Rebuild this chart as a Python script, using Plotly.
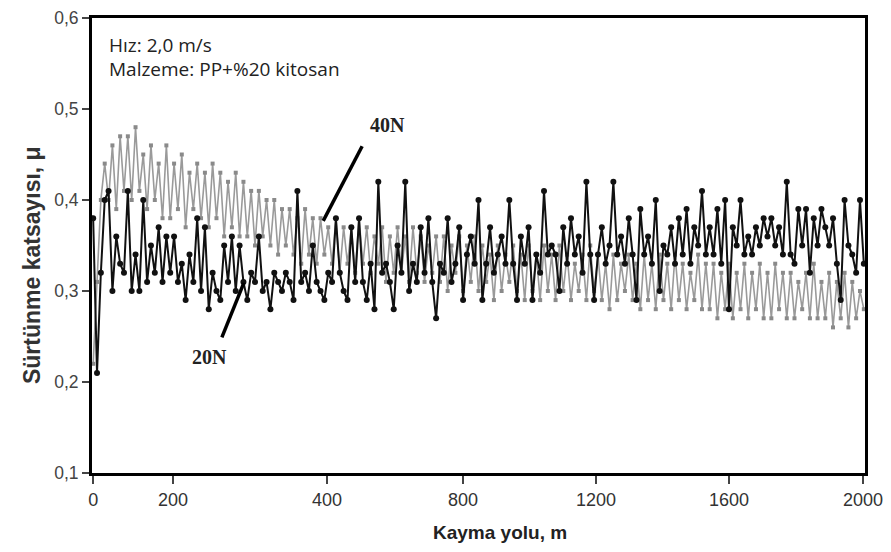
import plotly.graph_objects as go

# Sliding distance (m), one reading every 10 m
distance = list(range(0, 2001, 10))

# 40N series (grey)
mu_40N = [
    0.22, 0.31, 0.40, 0.44, 0.40, 0.46, 0.39, 0.47, 0.41, 0.47,
    0.40, 0.48, 0.41, 0.45, 0.39, 0.46, 0.40, 0.44, 0.38, 0.46,
    0.38, 0.44, 0.39, 0.45, 0.37, 0.43, 0.39, 0.44, 0.38, 0.43,
    0.37, 0.44, 0.38, 0.43, 0.36, 0.42, 0.37, 0.43, 0.36, 0.42,
    0.36, 0.41, 0.35, 0.41, 0.36, 0.40, 0.35, 0.40, 0.34, 0.39,
    0.35, 0.39, 0.34, 0.38, 0.33, 0.39, 0.34, 0.38, 0.33, 0.38,
    0.34, 0.37, 0.33, 0.38, 0.32, 0.37, 0.33, 0.37, 0.32, 0.38,
    0.33, 0.37, 0.32, 0.36, 0.33, 0.37, 0.31, 0.36, 0.32, 0.37,
    0.32, 0.36, 0.31, 0.37, 0.32, 0.36, 0.31, 0.35, 0.32, 0.36,
    0.31, 0.36, 0.30, 0.35, 0.32, 0.36, 0.30, 0.35, 0.31, 0.36,
    0.30, 0.35, 0.31, 0.34, 0.29, 0.35, 0.30, 0.34, 0.31, 0.35,
    0.30, 0.34, 0.29, 0.35, 0.30, 0.34, 0.29, 0.35, 0.30, 0.34,
    0.29, 0.35, 0.30, 0.34, 0.29, 0.33, 0.30, 0.34, 0.29, 0.35,
    0.30, 0.34, 0.29, 0.33, 0.28, 0.34, 0.29, 0.33, 0.30, 0.34,
    0.29, 0.33, 0.28, 0.34, 0.29, 0.33, 0.28, 0.34, 0.29, 0.33,
    0.28, 0.34, 0.29, 0.33, 0.28, 0.32, 0.29, 0.34, 0.28, 0.33,
    0.28, 0.33, 0.27, 0.32, 0.28, 0.33, 0.27, 0.32, 0.28, 0.33,
    0.27, 0.32, 0.28, 0.33, 0.27, 0.32, 0.27, 0.33, 0.28, 0.32,
    0.27, 0.32, 0.27, 0.31, 0.28, 0.32, 0.27, 0.33, 0.27, 0.31,
    0.27, 0.32, 0.26, 0.31, 0.27, 0.32, 0.26, 0.31, 0.27, 0.30,
    0.28,
]

# 20N series (black)
mu_20N = [
    0.38, 0.21, 0.32, 0.40, 0.41, 0.30, 0.36, 0.33, 0.32, 0.41,
    0.30, 0.34, 0.30, 0.40, 0.31, 0.35, 0.32, 0.37, 0.31, 0.36,
    0.32, 0.36, 0.31, 0.33, 0.29, 0.34, 0.31, 0.38, 0.30, 0.37,
    0.28, 0.32, 0.30, 0.29, 0.35, 0.31, 0.36, 0.30, 0.35, 0.31,
    0.29, 0.32, 0.31, 0.36, 0.30, 0.31, 0.28, 0.32, 0.31, 0.30,
    0.32, 0.31, 0.29, 0.41, 0.31, 0.32, 0.30, 0.35, 0.31, 0.30,
    0.29, 0.32, 0.31, 0.38, 0.32, 0.30, 0.29, 0.37, 0.31, 0.38,
    0.31, 0.29, 0.33, 0.28, 0.42, 0.32, 0.33, 0.31, 0.28, 0.35,
    0.32, 0.42, 0.30, 0.33, 0.31, 0.37, 0.32, 0.38, 0.31, 0.27,
    0.33, 0.32, 0.38, 0.31, 0.33, 0.37, 0.29, 0.34, 0.36, 0.33,
    0.40, 0.29, 0.33, 0.37, 0.32, 0.34, 0.36, 0.33, 0.40, 0.33,
    0.29, 0.36, 0.33, 0.37, 0.29, 0.34, 0.32, 0.41, 0.34, 0.35,
    0.34, 0.30, 0.37, 0.33, 0.38, 0.34, 0.36, 0.32, 0.42, 0.34,
    0.29, 0.34, 0.37, 0.33, 0.35, 0.42, 0.34, 0.36, 0.33, 0.38,
    0.34, 0.29, 0.39, 0.34, 0.36, 0.33, 0.40, 0.30, 0.35, 0.34,
    0.37, 0.33, 0.38, 0.34, 0.39, 0.33, 0.37, 0.35, 0.41, 0.34,
    0.37, 0.34, 0.39, 0.33, 0.40, 0.28, 0.37, 0.35, 0.40, 0.34,
    0.36, 0.34, 0.37, 0.35, 0.38, 0.36, 0.38, 0.35, 0.37, 0.34,
    0.42, 0.34, 0.33, 0.39, 0.35, 0.39, 0.32, 0.38, 0.35, 0.39,
    0.37, 0.35, 0.38, 0.33, 0.29, 0.40, 0.35, 0.34, 0.32, 0.40,
    0.33,
]

# Axis tick positions/labels as printed on the original axis
x_tick_vals = [0, 207, 607, 960, 1305, 1650, 1998]
x_tick_text = ["0", "200", "400", "800", "1200", "1600", "2000"]
y_tick_vals = [0.1, 0.2, 0.3, 0.4, 0.5, 0.6]

info_lines = ["Hız: 2,0 m/s", "Malzeme: PP+%20 kitosan"]

fig = go.Figure()

fig.add_trace(go.Scatter(
    x=distance, y=mu_40N, mode="lines+markers", name="40N",
    line=dict(color="#9a9a9a", width=1.6),
    marker=dict(symbol="square", size=4, color="#8a8a8a"),
    showlegend=False,
))
fig.add_trace(go.Scatter(
    x=distance, y=mu_20N, mode="lines+markers", name="20N",
    line=dict(color="#111111", width=2),
    marker=dict(symbol="circle", size=6, color="#111111"),
    showlegend=False,
))

# Label leader lines
fig.add_shape(type="line", x0=698, y0=0.459, x1=597, y1=0.377,
              xref="x", yref="y", line=dict(color="black", width=3.5))
fig.add_shape(type="line", x0=391, y0=0.309, x1=334, y1=0.249,
              xref="x", yref="y", line=dict(color="black", width=3.5))

serif = dict(family="Liberation Serif, Times New Roman, serif", size=20, color="#222")
fig.add_annotation(x=763, y=0.482, xref="x", yref="y", text="<b>40N</b>",
                   showarrow=False, font=serif, xanchor="center", yanchor="middle")
fig.add_annotation(x=303, y=0.227, xref="x", yref="y", text="<b>20N</b>",
                   showarrow=False, font=serif, xanchor="center", yanchor="middle")

# plot area (in figure px): left 84, right 857, top 10, bottom 465
info_font = dict(family="Open Sans, Lato, sans-serif", size=19, color="#222")
fig.add_annotation(x=0.0194, y=0.9405, xref="paper", yref="paper", text=info_lines[0],
                   showarrow=False, xanchor="left", yanchor="middle", font=info_font)
fig.add_annotation(x=0.0194, y=0.8875, xref="paper", yref="paper", text=info_lines[1],
                   showarrow=False, xanchor="left", yanchor="middle", font=info_font)

# Axis titles
fig.add_annotation(x=-0.0776, y=0.457, xref="paper", yref="paper",
                   text="<b>Sürtünme katsayısı, μ</b>", textangle=-90, showarrow=False,
                   xanchor="center", yanchor="middle",
                   font=dict(family="Liberation Sans, Arial, sans-serif", size=23, color="#333"))
fig.add_annotation(x=0.528, y=-0.1318, xref="paper", yref="paper",
                   text="<b>Kayma yolu, m</b>", showarrow=False,
                   xanchor="center", yanchor="middle",
                   font=dict(family="Liberation Sans Narrow, Liberation Sans, Arial, sans-serif",
                             size=19, color="#222"))

fig.update_layout(
    width=875, height=536,
    margin=dict(l=84, r=18, t=10, b=71, autoexpand=False),
    paper_bgcolor="white", plot_bgcolor="white",
    separators=", ",
    xaxis=dict(
        range=[-3, 2003], showgrid=False, zeroline=False, automargin=False,
        showline=True, linecolor="black", linewidth=3, mirror=True,
        tickmode="array", tickvals=x_tick_vals, ticktext=x_tick_text,
        ticks="outside", ticklen=8, tickwidth=1.5, tickcolor="#444",
        ticklabeloverflow="allow",
        tickfont=dict(family="Liberation Sans Narrow, Liberation Sans, Arial, sans-serif",
                      size=18, color="#333"),
    ),
    yaxis=dict(
        range=[0.1, 0.6], showgrid=False, zeroline=False, automargin=False,
        showline=True, linecolor="black", linewidth=3, mirror=True,
        tickmode="array", tickvals=y_tick_vals, tickformat=".1f",
        ticks="outside", ticklen=7, tickwidth=1.5, tickcolor="#444",
        ticklabeloverflow="allow",
        tickfont=dict(family="Liberation Sans, Arial, sans-serif", size=17.5, color="#444"),
    ),
)

fig.write_html("out.html")
